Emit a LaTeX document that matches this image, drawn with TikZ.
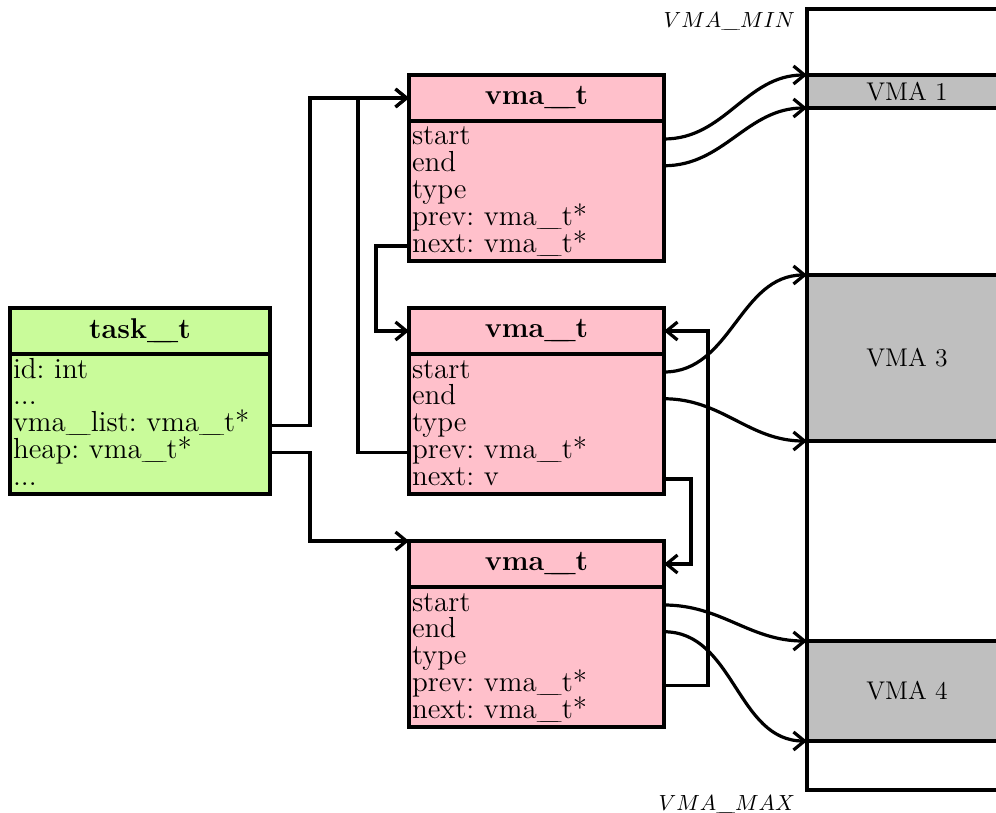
\documentclass[tikz,border=0pt]{standalone}
\usetikzlibrary{arrows.meta}

\definecolor{structpink}{HTML}{FFC0CB}
\definecolor{taskgreen}{HTML}{C9FB9A}
\definecolor{regiongray}{HTML}{BFBFBF}

% slightly long underscore used in the type names
\newcommand{\usc}{\_\kern-0.61em\_}
\newcommand{\fieldfont}{\fontsize{14.5}{16}\selectfont\frenchspacing}
\newcommand{\headfont}{\fontsize{14.3}{16}\selectfont\bfseries}
\newcommand{\vmafont}{\fontsize{12.8}{15}\selectfont}
\newcommand{\limfont}{\fontsize{10.5}{12}\selectfont}

\begin{document}
\begin{tikzpicture}[x=0.5pt,y=-0.5pt,
  every node/.style={inner sep=0pt, outer sep=0pt},
  frame/.style={draw, line width=1.6pt, minimum width=#1, minimum height=93pt, anchor=north west},
  head/.style={draw, line width=1.6pt, minimum width=#1, minimum height=23pt, anchor=north west, font=\headfont},
  field/.style={anchor=base west, text width=#1, text height=8.6pt, text depth=2.6pt, align=left, font=\fieldfont},
  link/.style={line width=1.6pt, -{Straight Barb[length=5.5pt,width=9pt]}},
  region/.style={draw, fill=regiongray, line width=1.6pt, anchor=north west, minimum width=100pt, font=\vmafont},
  limit/.style={anchor=base east, font=\limfont},
]
\useasboundingbox (0,0) rectangle (996,813);
\clip (0,0) rectangle (996,813);

% ---------- address space ----------
\node[draw, line width=1.6pt, anchor=north west, minimum width=100pt, minimum height=390.5pt] (mem) at (807,9) {};
\node[region, minimum height=16.5pt] (m1) at (807,75) {VMA 1};
\node[region, minimum height=83pt] (m3) at (807,275) {VMA 3};
\node[region, minimum height=50pt] (m4) at (807,641) {VMA 4};
\node[limit] (vmin) at (795,28) {$VMA\usc MIN$};
\node[limit] (vmax) at (795,810) {$VMA\usc MAX$};

% ---------- task_t ----------
\node[frame=130pt, fill=taskgreen] (t) at (10,308) {};
\node[head=130pt] (th) at (10,308) {task\usc t};
\node[field=128.5pt] (t1) at (13,378) {id: int};
\node[field=128.5pt] (t2) at (13,404.75) {...};
\node[field=128.5pt] (tlist) at (13,431.5) {vma\usc list: vma\usc t*};
\node[field=128.5pt] (theap) at (13,458.25) {heap: vma\usc t*};
\node[field=128.5pt] (t5) at (13,485) {...};

% ---------- vma_t #1 ----------
\node[frame=127.5pt, fill=structpink] (v1) at (409,75) {};
\node[head=127.5pt] (v1h) at (409,75) {vma\usc t};
\node[field=126pt] (v1s) at (412,145) {start};
\node[field=126pt] (v1e) at (412,171.75) {end};
\node[field=126pt] (v1t) at (412,198.5) {type};
\node[field=126pt] (v1p) at (412,225.25) {prev: vma\usc t*};
\node[field=126pt] (v1n) at (412,252) {next: vma\usc t*};

% ---------- vma_t #2 ----------
\node[frame=127.5pt, fill=structpink] (v2) at (409,308) {};
\node[head=127.5pt] (v2h) at (409,308) {vma\usc t};
\node[field=126pt] (v2s) at (412,378) {start};
\node[field=126pt] (v2e) at (412,404.75) {end};
\node[field=126pt] (v2t) at (412,431.5) {type};
\node[field=126pt] (v2p) at (412,458.25) {prev: vma\usc t*};
\node[field=126pt] (v2n) at (412,485) {next: v};

% ---------- vma_t #3 ----------
\node[frame=127.5pt, fill=structpink] (v3) at (409,541) {};
\node[head=127.5pt] (v3h) at (409,541) {vma\usc t};
\node[field=126pt] (v3s) at (412,611) {start};
\node[field=126pt] (v3e) at (412,637.75) {end};
\node[field=126pt] (v3t) at (412,664.5) {type};
\node[field=126pt] (v3p) at (412,691.25) {prev: vma\usc t*};
\node[field=126pt] (v3n) at (412,718) {next: vma\usc t*};

% ---------- pointers between structures ----------
\draw[link] (t.east |- tlist) -- ++(40,0) |- (v1h.west);
\draw[link] (t.east |- theap) -- ++(40,0) |- (v3.north west);
\draw[link] (v2.west |- v2p) -- ++(-51,0) |- (v1h.west);
\draw[link] (v1.west |- v1n) -- ++(-33,0) |- (v2h.west);
\draw[link] (v2.east |- v2n) -- ++(27,0) |- (v3h.east);
\draw[link] (v3.east |- v3p) -- ++(44,0) |- (v2h.east);

% ---------- start/end into the address space ----------
\draw[link] (v1.east |- v1s) to[out=0,in=180] (m1.north west);
\draw[link] (v1.east |- v1e) to[out=0,in=180] (m1.south west);
\draw[link] (v2.east |- v2s) to[out=0,in=180] (m3.north west);
\draw[link] (v2.east |- v2e) to[out=0,in=180] (m3.south west);
\draw[link] (v3.east |- v3s) to[out=0,in=180] (m4.north west);
\draw[link] (v3.east |- v3e) to[out=0,in=180] (m4.south west);
\end{tikzpicture}
\end{document}
